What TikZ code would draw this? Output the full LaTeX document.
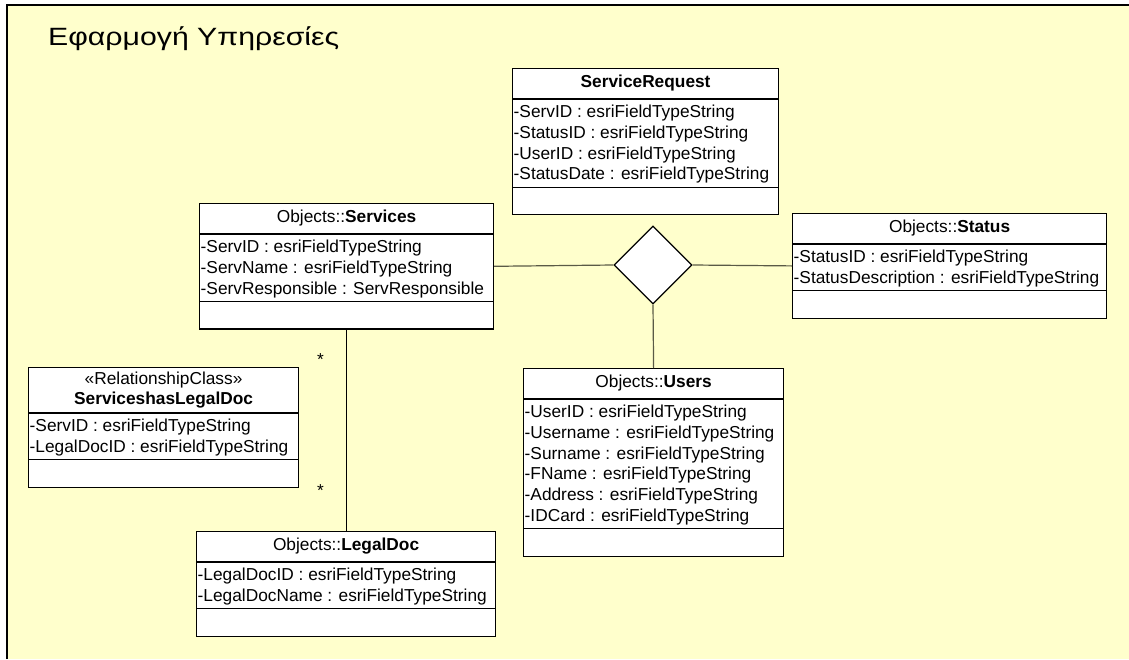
\documentclass[tikz,border=0pt]{standalone}
\usepackage{fontspec}
\setmainfont{Liberation Sans}
\usepackage{tikz}
\usetikzlibrary{calc,positioning,shapes.geometric}
\definecolor{notebg}{RGB}{255,255,204}
\definecolor{linkgray}{RGB}{90,90,70}
\newcommand{\classfont}{\fontsize{17.3}{20.8}\selectfont}
\tikzset{
  classbox/.style={draw,fill=white,line width=1.2pt,anchor=north west,inner sep=0pt},
  classsep/.style={line width=1.2pt},
  classhead/.style={inner sep=0pt,align=center,font=\classfont},
  classattr/.style={inner sep=0pt,anchor=north west,align=left,font=\classfont},
  assoc/.style={line width=1.2pt,draw=linkgray},
  relbox/.style={diamond,draw,fill=white,line width=1.2pt,
    minimum width=78pt,minimum height=78pt,inner sep=0pt},
  mult/.style={inner sep=0pt,font=\classfont}
}
% #1 name, #2 top left, #3 width, #4 head height, #5 no. of attributes,
% #6 head text, #7 attributes
\newcommand{\umlclass}[7]{%
  \pgfmathsetmacro\attrh{#5*20.8+5}%
  \pgfmathsetmacro\boxh{#4+\attrh+27}%
  \pgfmathsetmacro\headmid{#4/2}%
  \pgfmathsetmacro\opstop{#4+\attrh}%
  \node[classbox,minimum width=#3pt,minimum height=\boxh pt] (#1) at #2 {};
  \node[classhead] (#1-head) at ([yshift=-\headmid pt]#1.north) {#6};
  \draw[classsep] ([yshift=-#4pt]#1.north west) -- ([yshift=-#4pt]#1.north east);
  \node[classattr] (#1-attr) at ([xshift=1.5pt,yshift=-#4pt-5.8pt]#1.north west) {#7};
  \draw[classsep] ([yshift=-\opstop pt]#1.north west) -- ([yshift=-\opstop pt]#1.north east);
}

\begin{document}
\begin{tikzpicture}[x=1pt,y=-1pt]
  \useasboundingbox (0,0) rectangle (1129,659);
  \fill[white] (0,0) rectangle (1129,659);
  \fill[notebg] (7,5) rectangle (1129,659);
  \draw[line width=1.5pt] (7,659) -- (7,5) -- (1129,5);
  \node[anchor=base west,inner sep=0pt,font=\fontsize{25}{30}\selectfont]
    (title) at (48,45) {\scalebox{1.21}[1]{Εφαρμογή Υπηρεσίες}};

  % classes
  \umlclass{req}{(512,68)}{266}{31}{4}{\textbf{ServiceRequest}}
    {-ServID : esriFieldTypeString\\-StatusID : esriFieldTypeString\\
     -UserID : esriFieldTypeString\\-StatusDate : esriFieldTypeString}
  \umlclass{services}{(199,203)}{294}{31}{3}{Objects::\textbf{Services}}
    {-ServID : esriFieldTypeString\\-ServName : esriFieldTypeString\\
     -ServResponsible : ServResponsible}
  \umlclass{status}{(792,213)}{314}{31}{2}{Objects::\textbf{Status}}
    {-StatusID : esriFieldTypeString\\-StatusDescription : esriFieldTypeString}
  \umlclass{users}{(523,368)}{260}{31}{6}{Objects::\textbf{Users}}
    {-UserID : esriFieldTypeString\\-Username : esriFieldTypeString\\
     -Surname : esriFieldTypeString\\-FName : esriFieldTypeString\\
     -Address : esriFieldTypeString\\-IDCard : esriFieldTypeString}
  \umlclass{hasdoc}{(28,367)}{270}{46}{2}
    {«RelationshipClass»\\\textbf{ServiceshasLegalDoc}}
    {-ServID : esriFieldTypeString\\-LegalDocID : esriFieldTypeString}
  \umlclass{legaldoc}{(196,531)}{299}{31}{2}{Objects::\textbf{LegalDoc}}
    {-LegalDocID : esriFieldTypeString\\-LegalDocName : esriFieldTypeString}

  % n-ary association
  \node[relbox] (nary) at (653,265) {};
  \draw[assoc] (services.east) -- (nary.west);
  \draw[assoc] (nary.east) -- (status.west);
  \draw[assoc] (nary.south) -- (users.north);
  \draw[assoc,draw=black] (services.south) -- (services.south |- legaldoc.north)
    node[mult,pos=0.15,xshift=-26pt] (m1) {*}
    node[mult,pos=0.8,xshift=-26pt] (m2) {*};
\end{tikzpicture}
\end{document}
